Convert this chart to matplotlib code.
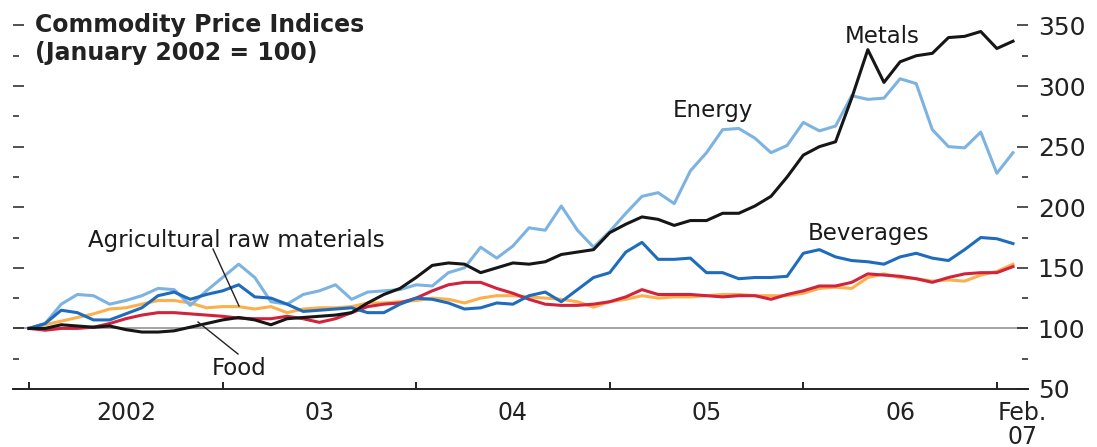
import matplotlib
matplotlib.use("Agg")
import matplotlib.pyplot as plt
from matplotlib.lines import Line2D
import numpy as np

# ---- data: monthly indices, Jan 2002 .. Feb 2007 (Jan 2002 = 100) ----
metals = [100, 100, 103, 102, 101, 102, 99, 97, 97, 98, 101, 104,
          107, 109, 107, 103, 108, 109, 110, 111, 113, 121, 128, 133,
          142, 152, 154, 153, 146, 150, 154, 153, 155, 161, 163, 165,
          179, 186, 192, 190, 185, 189, 189, 195, 195, 201, 209, 225,
          243, 250, 254, 290, 330, 303, 320, 325, 327, 340, 341, 345,
          331, 337]
energy = [100, 104, 120, 128, 127, 120, 123, 127, 133, 132, 119, 131,
          142, 153, 142, 122, 120, 128, 131, 136, 124, 130, 131, 132,
          136, 135, 146, 150, 167, 158, 168, 183, 181, 201, 181, 167,
          180, 195, 209, 212, 203, 230, 245, 264, 265, 257, 245, 251,
          270, 263, 267, 292, 289, 290, 306, 302, 264, 250, 249, 262,
          228, 245]
beverages = [100, 104, 115, 113, 107, 107, 112, 117, 127, 130, 124, 128,
             131, 136, 126, 125, 120, 114, 115, 116, 117, 113, 113, 120,
             125, 124, 121, 116, 117, 121, 120, 127, 130, 122, 132, 142,
             146, 163, 171, 157, 157, 158, 146, 146, 141, 142, 142, 143,
             162, 165, 159, 156, 155, 153, 159, 162, 158, 156, 165, 175,
             174, 170]
food = [100, 98.5, 100, 100, 101, 104, 108, 111, 113, 113, 112, 111,
        110, 108.5, 108, 108, 110, 108, 105, 108, 113, 118, 120, 121,
        125, 131, 136, 138, 138, 133, 129, 124, 120, 119, 119, 120,
        122, 126, 132, 128, 128, 128, 127, 126, 127, 127, 124, 128,
        131, 135, 135, 138, 145, 144, 143, 141, 138, 142, 145, 146,
        146, 151]
agri = [100, 103, 106, 109, 112, 116, 117, 120, 123, 123, 121, 117,
        118, 118, 116, 118, 113, 116, 117, 117, 118, 121, 121, 122,
        123, 125, 124, 121, 125, 127, 127, 126, 125, 124, 122, 117.5,
        122, 124, 127, 125, 126, 126, 127, 128, 128, 127, 127, 127,
        129, 133, 134, 133, 142, 145, 142, 141, 139, 140, 139, 144,
        147, 153]

year_ticks = [0, 12, 24, 36, 48, 60]
year_label_pos = [6, 18, 30, 42, 54, 61.6]
year_labels = ["2002", "03", "04", "05", "06", "Feb.\n07"]
y_major = [50, 100, 150, 200, 250, 300, 350]
y_minor = [75, 125, 175, 225, 275, 325]

W, H = 1097, 447
fig = plt.figure(figsize=(W / 100, H / 100), dpi=100)
plt.rcParams['font.family'] = ['DejaVu Sans']

def fx(px):
    return px / W

def fy(py):
    return 1 - py / H

ax = fig.add_axes([fx(13), fy(389), fx(1028) - fx(13), fy(0) - fy(389)])
months = np.arange(len(metals))

ax.axhline(100, color="#8a8a8a", lw=1.1, zorder=1)

lw = 2.2
ax.plot(months, agri, color="#fbb04c", lw=lw, zorder=2)
ax.plot(months, food, color="#d2233c", lw=lw, zorder=3)
ax.plot(months, energy, color="#7db3e0", lw=lw, zorder=2)
ax.plot(months, beverages, color="#1f6cbd", lw=lw, zorder=4)
ax.plot(months, metals, color="#161616", lw=lw, zorder=5)

ax.set_xlim(-0.99, 61.93)
ax.set_ylim(50, 371)

for s in ["top", "left", "right"]:
    ax.spines[s].set_visible(False)
ax.spines["bottom"].set_linewidth(1.4)
ax.spines["bottom"].set_color("#222222")

ax.set_yticks(y_major)
ax.set_yticks(y_minor, minor=True)
ax.tick_params(axis="y", which="both", direction="in", left=True, right=True,
               labelleft=False, labelright=True, width=1.1, color="#222222")
ax.tick_params(axis="y", which="major", length=8, pad=7, labelsize=18,
               labelcolor="#222222")
ax.tick_params(axis="y", which="minor", length=4.5)
ax.set_xticks(year_ticks)
ax.set_xticklabels([])
ax.tick_params(axis="x", direction="in", length=5, width=1.4, color="#222222")

for pos, lab in zip(year_label_pos, year_labels):
    ax.annotate(lab, xy=(pos, 0), xycoords=ax.get_xaxis_transform(),
                xytext=(0, -12), textcoords="offset pixels",
                ha="center", va="top", fontsize=17, color="#222222",
                linespacing=1.0)

# title
fig.text(fx(35), fy(32), "Commodity Price Indices", fontsize=17,
         fontweight="bold", color="#222222", va="baseline")
fig.text(fx(35), fy(60), "(January 2002 = 100)", fontsize=17,
         fontweight="bold", color="#222222", va="baseline")

# series labels
lab_kw = dict(fontsize=16.5, color="#1a1a1a", va="baseline")
fig.text(fx(673), fy(117), "Energy", **lab_kw)
fig.text(fx(845), fy(43), "Metals", **lab_kw)
fig.text(fx(808), fy(240), "Beverages", **lab_kw)
fig.text(fx(88), fy(247), "Agricultural raw materials", **lab_kw)
fig.text(fx(212), fy(375), "Food", **lab_kw)

# leader lines
fig.add_artist(Line2D([fx(213), fx(239)], [fy(249), fy(306)], color="#222222", lw=1.0))
fig.add_artist(Line2D([fx(198), fx(238)], [fy(322), fy(354)], color="#222222", lw=1.0))

fig.savefig("out.png", dpi=100)
